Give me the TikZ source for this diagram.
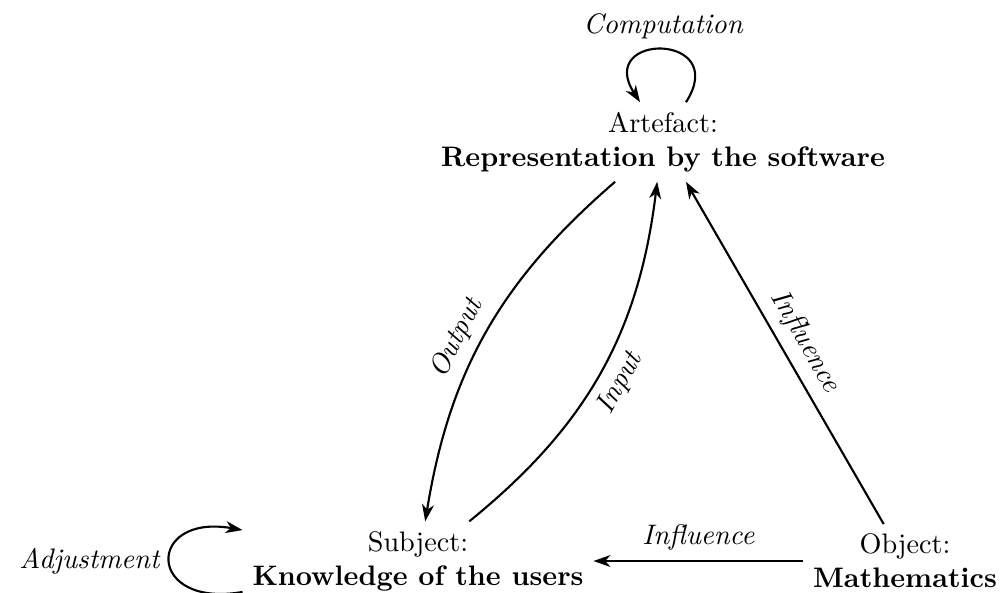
\documentclass[tikz,border=0pt]{standalone}
\usetikzlibrary{arrows.meta}
\begin{document}
\begin{tikzpicture}[x=0.3546pt,y=-0.3546pt,
  box/.style={align=center, inner sep=3.33pt},
  conn/.style={-{Stealth[length=6pt,width=4.2pt,inset=1.8pt]}, line width=0.75pt},
  lab/.style={font=\itshape}]
\useasboundingbox (0,0) rectangle (1002,592);
\node[box] (A) at (663,142) {Artefact:\\ \textbf{Representation by the software}};
\node[box] (S) at (418,561) {Subject:\\ \textbf{Knowledge of the users}};
\node[box] (O) at (905,561) {Object:\\ \textbf{Mathematics}};
\draw[conn] (A) to[bend right=20] node[lab, pos=0.55, sloped, above] {Output} (S);
\draw[conn] (S) to[bend right=22] node[lab, midway, sloped, below] {Input} (A);
\draw[conn] (O) -- node[lab, midway, sloped, above] {Influence} (A);
\draw[conn] (O) -- node[lab, midway, above] {Influence} (S);
\draw[conn] (A.60) .. controls +(45,-70) and +(-45,-70) .. node[lab, midway, above] {Computation} (A.120);
\draw[conn] (S.190) .. controls +(-97,17) and +(-97,-17) .. node[lab, midway, left] {Adjustment} (S.170);
\end{tikzpicture}
\end{document}
